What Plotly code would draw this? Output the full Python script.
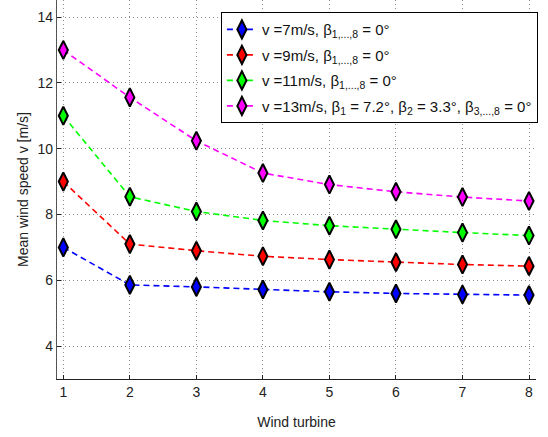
import plotly.graph_objects as go

turbines = [1, 2, 3, 4, 5, 6, 7, 8]
v7 = [7.0, 5.86, 5.80, 5.72, 5.65, 5.60, 5.57, 5.55]
v9 = [9.0, 7.10, 6.90, 6.73, 6.63, 6.55, 6.48, 6.43]
v11 = [11.0, 8.54, 8.09, 7.82, 7.66, 7.55, 7.45, 7.36]
v13 = [13.0, 11.56, 10.24, 9.26, 8.91, 8.69, 8.53, 8.41]

names = [
    "v =7m/s, β<sub>1,...,8</sub> = 0°",
    "v =9m/s, β<sub>1,...,8</sub> = 0°",
    "v =11m/s, β<sub>1,...,8</sub> = 0°",
    "v =13m/s, β<sub>1</sub> = 7.2°, β<sub>2</sub> = 3.3°, β<sub>3,...,8</sub> = 0°",
]
colors = ["#0000ff", "#ff0000", "#00ff00", "#ff00ff"]
series = [v7, v9, v11, v13]

fig = go.Figure()
for i, (ys, nm, c) in enumerate(zip(series, names, colors)):
    fig.add_trace(go.Scatter(
        x=turbines, y=ys, name=nm, mode="lines+markers", legendgroup=f"g{i}",
        line=dict(color=c, width=1.6, dash="6px,4px"),
        marker=dict(symbol="diamond-tall", size=13, color=c,
                    line=dict(color="black", width=2)),
    ))

font = "Liberation Sans, Arial, sans-serif"
fig.update_layout(
    width=548, height=437,
    margin=dict(l=57, r=12, t=0, b=58),
    paper_bgcolor="white", plot_bgcolor="white",
    font=dict(family=font, size=13, color="#222"),
    legend=dict(x=1.004, y=0.968, xanchor="right", yanchor="top",
                bordercolor="black", borderwidth=1, bgcolor="white",
                font=dict(size=15, color="#111"), tracegroupgap=3,
                itemwidth=30),
    showlegend=True,
)
fig.update_xaxes(
    range=[0.905, 8.105], tickvals=turbines, ticks="inside", ticklen=4,
    tickcolor="#222", showline=True, linecolor="#222", linewidth=1.2,
    showgrid=True, gridcolor="#8c8c8c", griddash="1px,3px", gridwidth=1,
    zeroline=False, mirror=False,
    title=dict(text="Wind turbine", font=dict(size=14), standoff=18),
    tickfont=dict(size=14),
)
fig.update_yaxes(
    range=[3.0, 14.52], tickvals=[4, 6, 8, 10, 12, 14], ticks="inside", ticklen=4,
    tickcolor="#222", showline=True, linecolor="#555", linewidth=1.2,
    showgrid=True, gridcolor="#8c8c8c", griddash="1px,3px", gridwidth=1,
    zeroline=False, mirror=False,
    title=dict(text="Mean wind speed v [m/s]", font=dict(size=14), standoff=5),
    tickfont=dict(size=14),
)
fig.write_html("out.html", config={"displayModeBar": False})

with open("out.html", "r", encoding="utf-8") as f:
    html = f.read()
html = html.replace("<body>", '<body style="margin:0;padding:0;overflow:hidden">', 1)
with open("out.html", "w", encoding="utf-8") as f:
    f.write(html)
